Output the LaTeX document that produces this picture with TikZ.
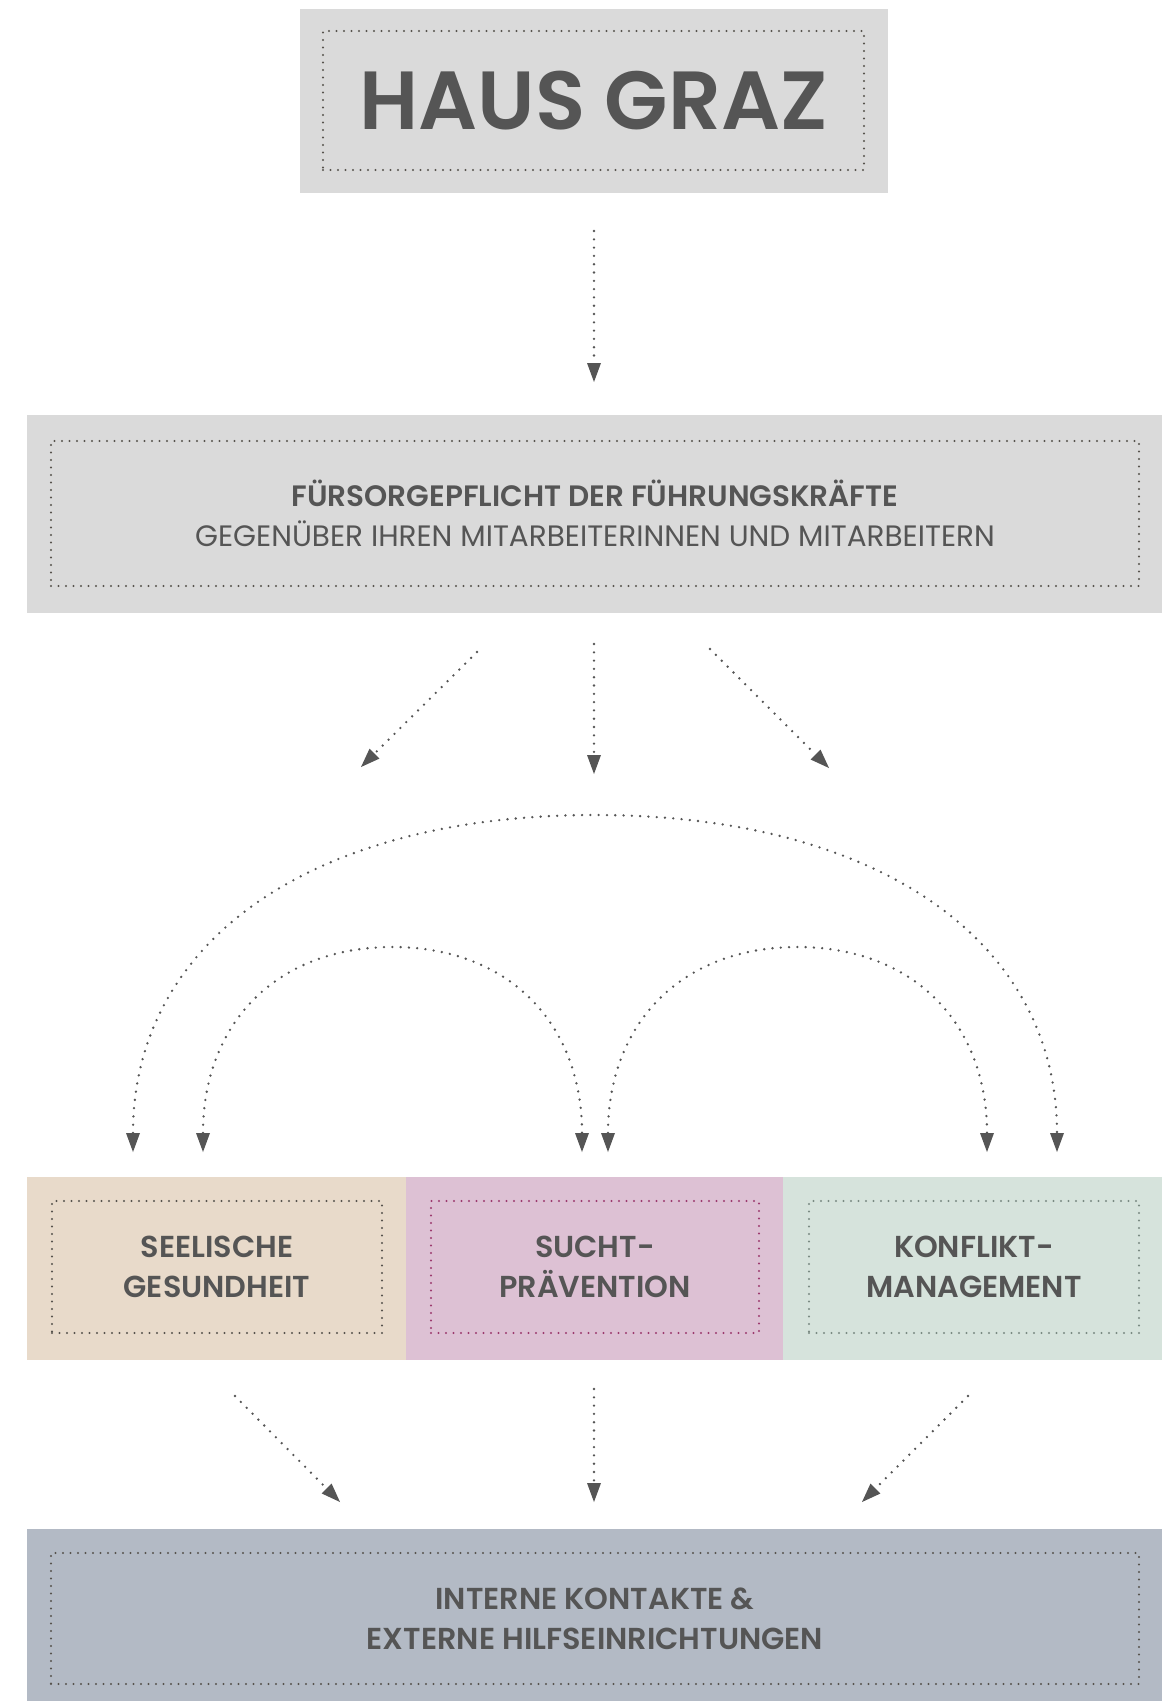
\documentclass[tikz,border=0pt]{standalone}
\usepackage{fontspec}
\setmainfont{Poppins}[BoldFont={* SemiBold}]
\usepackage{tikz}
\usetikzlibrary{arrows.meta, positioning}
\usepackage{tkz-base, tkz-euclide}

\definecolor{txtgray}{HTML}{555555}
\definecolor{arrowgray}{HTML}{555555}
\definecolor{dotgray}{HTML}{57534D}
\definecolor{dotpink}{HTML}{9C3A6E}
\definecolor{dotgreen}{HTML}{7A8A82}
\definecolor{boxgray}{HTML}{DADADA}
\definecolor{boxbeige}{HTML}{E8DACA}
\definecolor{boxpink}{HTML}{DDC1D4}
\definecolor{boxgreen}{HTML}{D6E3DC}
\definecolor{boxblue}{HTML}{B3BAC5}

\newcommand{\titlefont}{\fontsize{82.5}{84}\selectfont\bfseries}
\newcommand{\labelfont}{\fontsize{29.5}{40}\selectfont}
\newcommand{\boxfont}{\fontsize{30.3}{40}\selectfont\bfseries}

\tikzset{
  tip/.tip={Triangle[length=19pt, width=14pt, line width=0pt]},
  flow/.style={draw=arrowgray, line width=2.6pt, line cap=round,
    dash pattern=on 0pt off 8.3pt, -tip},
  flowboth/.style={flow, tip-tip},
  panel/.style={fill=#1, inner sep=0pt, outer sep=0pt},
  frame/.style={draw=#1, line width=2.4pt, line cap=round,
    dash pattern=on 0pt off 7.5pt, inner sep=0pt, text=txtgray, align=center}
}

\begin{document}
\begin{tikzpicture}[x=1pt, y=-1pt]
\useasboundingbox (0,0) rectangle (1167,1701);

% boxes
\node[panel=boxgray, minimum width=588pt, minimum height=184pt] (graz) at (594,101) {};
\node[frame=dotgray, minimum width=541pt, minimum height=139pt, font=\titlefont] (grazin) at (593.5,100.5) {HAUS GRAZ};

\node[panel=boxgray, minimum width=1135pt, minimum height=198pt] (pflicht) at (594.5,514) {};
\node[frame=dotgray, minimum width=1088pt, minimum height=145pt, font=\labelfont] (pflichtin) at (595,513.5)
  {{\bfseries FÜRSORGEPFLICHT DER FÜHRUNGSKRÄFTE}\\GEGENÜBER IHREN MITARBEITERINNEN UND MITARBEITERN};

\node[panel=boxbeige, minimum width=379pt, minimum height=183pt] (seele) at (216.5,1268.5) {};
\node[panel=boxpink, minimum width=377pt, minimum height=183pt, right=0pt of seele] (sucht) {};
\node[panel=boxgreen, minimum width=379pt, minimum height=183pt, right=0pt of sucht] (konflikt) {};
\node[frame=dotgray, minimum width=330pt, minimum height=132pt, font=\boxfont] (seelein) at (217,1267) {SEELISCHE\\GESUNDHEIT};
\node[frame=dotpink, minimum width=328pt, minimum height=132pt, font=\boxfont] (suchtin) at (595,1267) {SUCHT-\\PRÄVENTION};
\node[frame=dotgreen, minimum width=330pt, minimum height=132pt, font=\boxfont] (konfliktin) at (974,1267) {KONFLIKT-\\MANAGEMENT};

\node[panel=boxblue, minimum width=1135pt, minimum height=172pt] (hilfe) at (594.5,1615) {};
\node[frame=dotgray, minimum width=1088pt, minimum height=131pt, font=\boxfont] (hilfein) at (595,1618.5)
  {INTERNE KONTAKTE \&\\EXTERNE HILFSEINRICHTUNGEN};

% arrow ends
\tkzDefPoints{594/231/T_1, 594/382/T_2,
  477/652/L_1, 361/767/L_2, 594/644/M_1, 594/774/M_2, 710/649/R_1, 829/768/R_2,
  133/1152/P_1, 595/815/P, 1057/1152/P_2,
  203/1152/Q_1, 392.5/947/Q, 582/1152/Q_2,
  608/1152/S_1, 797.5/947/S, 987/1152/S_2,
  235/1396/U_1, 340/1502/U_2, 594/1389/V_1, 594/1502/V_2, 968/1396/W_1, 862/1502/W_2}

\tkzDrawSegments[flow](T_1,T_2 L_1,L_2 M_1,M_2 R_1,R_2 U_1,U_2 V_1,V_2 W_1,W_2)

% arcs
\draw[flowboth] (P_1) .. controls +(0,-209) and +(-286,0) .. (P)
  .. controls +(286,0) and +(0,-209) .. (P_2);
\draw[flowboth] (Q_1) .. controls +(0,-127) and +(-117.5,0) .. (Q)
  .. controls +(117.5,0) and +(0,-127) .. (Q_2);
\draw[flowboth] (S_1) .. controls +(0,-127) and +(-117.5,0) .. (S)
  .. controls +(117.5,0) and +(0,-127) .. (S_2);

\end{tikzpicture}
\end{document}
